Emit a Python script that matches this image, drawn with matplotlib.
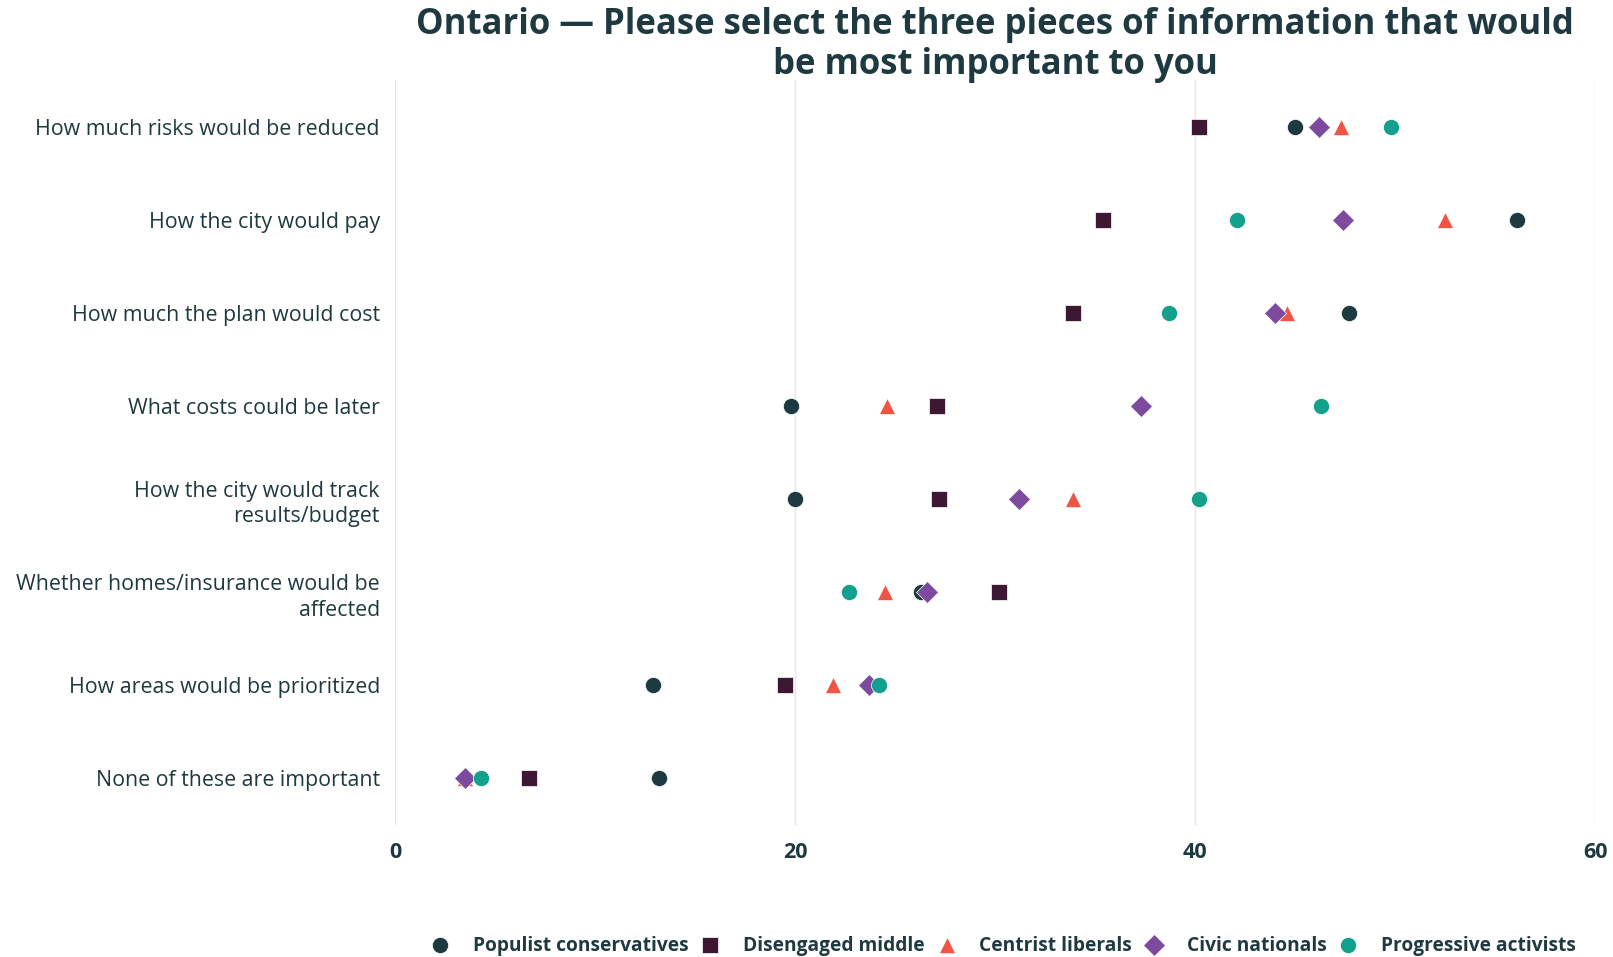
import matplotlib
matplotlib.use("Agg")
import matplotlib.pyplot as plt

# categories, top to bottom
questions = [
    "How much risks would be reduced",
    "How the city would pay",
    "How much the plan would cost",
    "What costs could be later",
    "How the city would track\nresults/budget",
    "Whether homes/insurance would be\naffected",
    "How areas would be prioritized",
    "None of these are important",
]

populist_conservatives = [45.0, 56.1, 47.7, 19.8, 20.0, 26.3, 12.9, 13.2]
disengaged_middle = [40.2, 35.4, 33.9, 27.1, 27.2, 30.2, 19.5, 6.7]
centrist_liberals = [47.3, 52.5, 44.6, 24.6, 33.9, 24.5, 21.9, 3.5]
civic_nationals = [46.2, 47.4, 44.0, 37.3, 31.2, 26.6, 23.7, 3.5]
progressive_activists = [49.8, 42.1, 38.7, 46.3, 40.2, 22.7, 24.2, 4.3]

x_ticks = [0, 20, 40, 60]

series = [
    ("Populist conservatives", populist_conservatives, "o", "#1c3a40", 135),
    ("Disengaged middle", disengaged_middle, "s", "#3e1833", 140),
    ("Centrist liberals", centrist_liberals, "^", "#ef5545", 135),
    ("Civic nationals", civic_nationals, "D", "#7d4a9e", 125),
    ("Progressive activists", progressive_activists, "o", "#13a08d", 135),
]

text_col = "#1e3a40"
plt.rcParams["font.family"] = ["Open Sans", "DejaVu Sans"]

fig = plt.figure(figsize=(16.13, 9.57), dpi=100)
ax = fig.add_axes([0.245, 0.138, 0.744, 0.778])

ypos = list(range(len(questions)))
for name, vals, mk, col, sz in series:
    ax.scatter(vals, ypos, marker=mk, s=sz, color=col, edgecolors="white",
               linewidths=0.5, label=name, zorder=3)

ax.set_ylim(len(questions) - 0.5, -0.5)
ax.set_xlim(0, 60)
ax.set_xticks(x_ticks)
ax.set_xticklabels([str(t) for t in x_ticks], fontsize=15.5, fontweight="bold",
                   color=text_col)
ax.set_yticks(ypos)
ax.set_yticklabels(questions, fontsize=15.4, color=text_col,
                   linespacing=1.3)
ax.tick_params(length=0)
ax.tick_params(axis="x", pad=12)
ax.tick_params(axis="y", pad=11)
ax.grid(axis="x", color="#e6e6e6", linewidth=1)
ax.set_axisbelow(True)
for s in ax.spines.values():
    s.set_visible(False)

ax.set_title("Ontario \u2014 Please select the three pieces of information that would\n"
             "be most important to you", fontsize=25, fontweight="bold",
             color=text_col, linespacing=1.15, y=1.008, pad=0)

leg = fig.legend(loc="center", bbox_to_anchor=(0.619, 0.012), ncol=5,
                 frameon=False, handletextpad=0.7, columnspacing=0.15,
                 prop={"size": 13.8, "weight": "bold"}, markerscale=1.0)
for t in leg.get_texts():
    t.set_color(text_col)

fig.savefig("out.png", dpi=100)
